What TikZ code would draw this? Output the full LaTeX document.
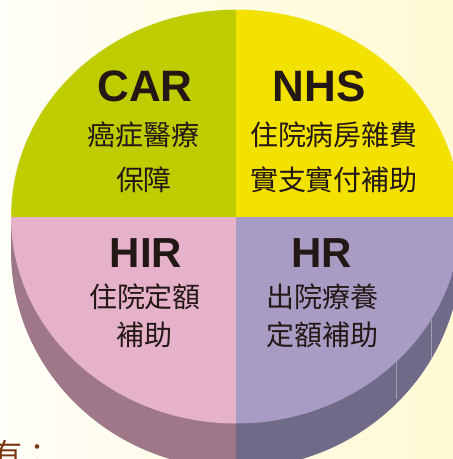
\documentclass[tikz,border=0pt]{standalone}
\usepackage{fontspec}
\setmainfont{Liberation Sans}
\newfontfamily\cjk{Noto Sans CJK TC}
\definecolor{bgL}{HTML}{FFFEF8}
\definecolor{bgR}{HTML}{FFF9D3}
\definecolor{carG}{HTML}{BFCD00}
\definecolor{nhsY}{HTML}{F3E200}
\definecolor{hirP}{HTML}{E6B2C9}
\definecolor{hrL}{HTML}{A89CC4}
\definecolor{sideP}{HTML}{9E7889}
\definecolor{sideL}{HTML}{6F6A88}
\definecolor{ink}{HTML}{231815}
\definecolor{brownT}{HTML}{7A3510}
\tikzset{
  lat/.style={inner sep=0pt, text=ink, font=\bfseries\fontsize{44}{44}\selectfont},
  latS/.style={inner sep=0pt, text=ink, font=\bfseries\fontsize{42}{42}\selectfont},
  zh/.style={inner sep=0pt, text=ink, font=\cjk\fontsize{28}{28}\selectfont},
  facet/.style={draw=white, draw opacity=0.35, line width=0.6pt},
}
\begin{document}
\begin{tikzpicture}[x=1pt,y=-1pt]
\useasboundingbox (0,0) rectangle (453,459);
\clip (0,0) rectangle (453,459);
% background
\shade[left color=bgL, right color=bgR] (0,0) rectangle (453,459);
% side of the cylinder
\begin{scope}
  \clip (0,0) rectangle (236,480);
  \fill[sideP] (11,216.5) rectangle (236,251);
  \fill[sideP] (236,251) ellipse[x radius=225pt, y radius=217.5pt];
\end{scope}
\begin{scope}
  \clip (236,0) rectangle (470,480);
  \fill[sideL] (236,216.5) rectangle (461,251);
  \fill[sideL] (236,251) ellipse[x radius=225pt, y radius=217.5pt];
\end{scope}
\draw[facet] (396,362) -- (396,399);
\draw[facet] (431,320) -- (431,358);
% top face
\begin{scope}
  \clip (236,216.5) ellipse[x radius=225pt, y radius=207pt];
  \fill[carG] (0,0) rectangle (236,216.5);
  \fill[nhsY] (236,0) rectangle (470,216.5);
  \fill[hirP] (0,216.5) rectangle (236,440);
  \fill[hrL] (236,216.5) rectangle (470,440);
\end{scope}
\draw[white, draw opacity=0.4, line width=0.5pt] (11,216.5) arc[start angle=180, end angle=360, x radius=225pt, y radius=-207pt];
% texts
\node[lat] (car) at (145,86) {CAR};
\node[lat] (nhs) at (319,86) {NHS};
\node[zh] (car1) at (144,135) {癌症醫療};
\node[zh] (car2) at (144,180) {保障};
\node[zh] (nhs1) at (334,135) {住院病房雜費};
\node[zh] (nhs2) at (334,180) {實支實付補助};
\node[latS] (hir) at (146,253) {HIR};
\node[latS] (hr) at (322,253) {HR};
\node[zh] (hir1) at (145,297) {住院定額};
\node[zh] (hir2) at (145,335) {補助};
\node[zh] (hr1) at (322,297) {出院療養};
\node[zh] (hr2) at (322,335) {定額補助};
\node[anchor=base west, inner sep=0pt, text=brownT, font=\cjk\fontsize{30}{30}\selectfont] (tail) at (-8,465) {有：};
\end{tikzpicture}
\end{document}
